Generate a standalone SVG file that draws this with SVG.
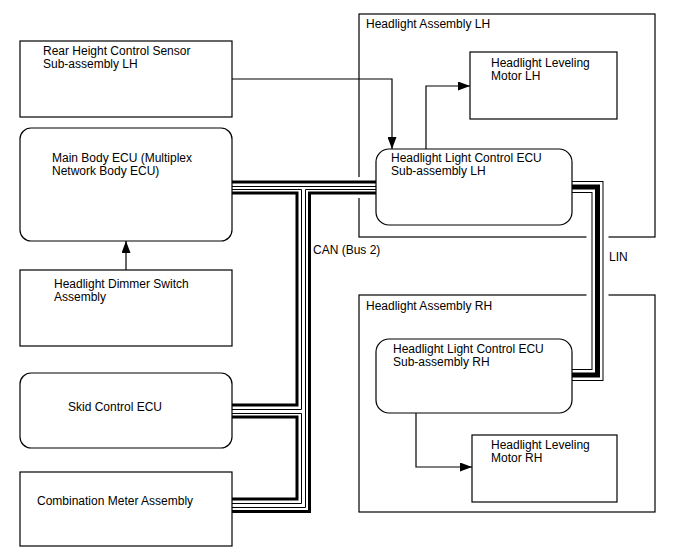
<svg xmlns="http://www.w3.org/2000/svg" width="688" height="560" viewBox="0 0 688 560">
<style>
  .box{fill:#fff;stroke:#000;stroke-width:1.2}
  .asm{fill:none;stroke:#000;stroke-width:1.2}
  text{font-family:"Liberation Sans",Arial,sans-serif;font-size:12px;fill:#000}
  .ln{fill:none;stroke:#000;stroke-width:1.2}
  .thin{fill:none;stroke:#000;stroke-width:1}
  .thick{fill:none;stroke:#000;stroke-width:3}
  .linO{fill:none;stroke:#000;stroke-width:12}
  .linW{fill:none;stroke:#fff;stroke-width:10}
  .linI{fill:none;stroke:#000;stroke-width:5}
  .halo{fill:none;stroke:#fff;stroke-width:22}
</style>
<defs>
  <marker id="arr" markerUnits="userSpaceOnUse" markerWidth="13" markerHeight="9" refX="12" refY="4.5" orient="auto">
    <path d="M0,0 L12,4.5 L0,9 Z" fill="#000"/>
  </marker>
</defs>
<rect width="688" height="560" fill="#fff"/>

<g id="asm-lh">
  <rect class="asm" x="359" y="14" width="296" height="223"/>
  <text x="366" y="28">Headlight Assembly LH</text>
</g>
<g id="asm-rh">
  <rect class="asm" x="359" y="295" width="296" height="217"/>
  <text x="366" y="310">Headlight Assembly RH</text>
</g>

<g id="connectors">
  <!-- LIN -->
  <path class="halo" d="M572,187 H597.5 V375 H572"/>
  <path class="linO" d="M572,187 H597.5 V375 H572"/>
  <path class="linW" d="M572,187 H597.5 V375 H572"/>
  <path class="linI" d="M572,187 H597.5 V375 H572"/>
  <!-- CAN halo over assembly edge -->
  <rect x="353" y="177" width="12" height="21" fill="#fff"/>
  <!-- CAN pair 1 straight -->
  <path class="thick" d="M232,182 H376"/>
  <path class="thin" d="M232,186.5 H376"/>
  <!-- left pair, top segment -->
  <path class="thin" d="M232,189.5 H301.5 V409.5 H232"/>
  <path class="thick" d="M232,193 H297 V405 H232"/>
  <!-- left pair, lower segment -->
  <path class="thin" d="M232,413.5 H301.5 V503.5 H232"/>
  <path class="thick" d="M232,417 H297 V499 H232"/>
  <!-- right pair -->
  <path class="thin" d="M376,189.5 H305.5 V507.5 H232"/>
  <path class="thick" d="M376,193 H309.5 V511.5 H232"/>
  <!-- arrows -->
  <path class="ln" d="M232,79 H392 V149" marker-end="url(#arr)"/>
  <path class="ln" d="M426,149 V86 H470" marker-end="url(#arr)"/>
  <path class="ln" d="M416,413 V467 H472" marker-end="url(#arr)"/>
  <path class="ln" d="M126,270 V241" marker-end="url(#arr)"/>
  <text x="313" y="254">CAN (Bus 2)</text>
  <text x="609" y="261">LIN</text>
</g>

<g id="rear-sensor">
  <rect class="box" x="20" y="41" width="212" height="76"/>
  <text x="43" y="55">Rear Height Control Sensor</text>
  <text x="43" y="68">Sub-assembly LH</text>
</g>
<g id="main-ecu">
  <rect class="box" x="20" y="128" width="212" height="113" rx="11"/>
  <text x="52" y="162">Main Body ECU (Multiplex</text>
  <text x="52" y="175">Network Body ECU)</text>
</g>
<g id="dimmer">
  <rect class="box" x="20" y="270" width="212" height="76"/>
  <text x="54" y="288">Headlight Dimmer Switch</text>
  <text x="54" y="301">Assembly</text>
</g>
<g id="skid">
  <rect class="box" x="20" y="373" width="212" height="75" rx="11"/>
  <text x="68" y="411">Skid Control ECU</text>
</g>
<g id="meter">
  <rect class="box" x="20" y="472" width="212" height="74"/>
  <text x="37" y="505">Combination Meter Assembly</text>
</g>
<g id="motor-lh">
  <rect class="box" x="470" y="52" width="147" height="67"/>
  <text x="491" y="67">Headlight Leveling</text>
  <text x="491" y="80">Motor LH</text>
</g>
<g id="ecu-lh">
  <rect class="box" x="376" y="149" width="196" height="76" rx="13"/>
  <text x="391" y="162">Headlight Light Control ECU</text>
  <text x="391" y="175">Sub-assembly LH</text>
</g>
<g id="ecu-rh">
  <rect class="box" x="376" y="339" width="196" height="74" rx="13"/>
  <text x="393" y="353">Headlight Light Control ECU</text>
  <text x="393" y="366">Sub-assembly RH</text>
</g>
<g id="motor-rh">
  <rect class="box" x="472" y="435" width="145" height="67"/>
  <text x="491" y="449">Headlight Leveling</text>
  <text x="491" y="462">Motor RH</text>
</g>
</svg>
